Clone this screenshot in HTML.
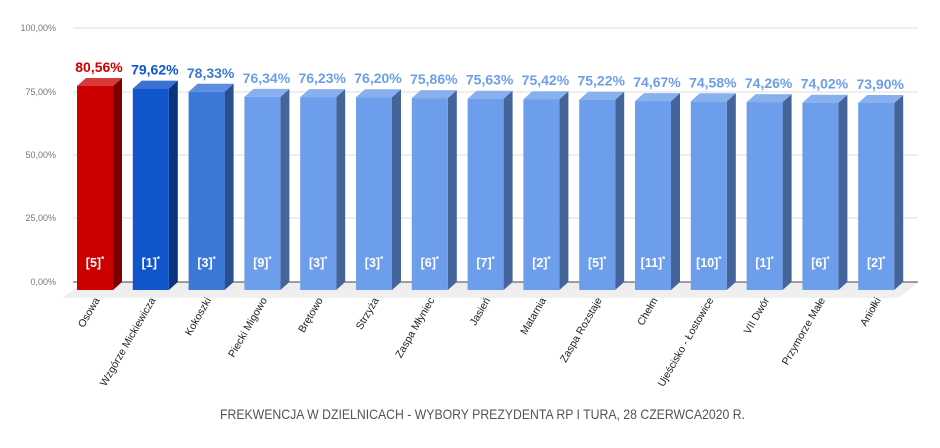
<!DOCTYPE html>
<html><head><meta charset="utf-8"><style>
html,body{margin:0;padding:0;background:#fff;}
svg{display:block;font-family:"Liberation Sans",sans-serif;}
.v{font-size:14px;font-weight:bold;text-anchor:middle;}
.i{font-size:12.5px;font-weight:bold;fill:#fff;text-anchor:middle;}
.i tspan{font-size:8px;}
.x{font-size:10.5px;fill:#222;text-anchor:end;}
.y{font-size:9px;fill:#777;text-anchor:end;}
</style></head><body>
<svg width="940" height="448" viewBox="0 0 940 448">
<g stroke="#ddd" stroke-width="1">
<line x1="73" y1="28" x2="918" y2="28"/><line x1="73" y1="92" x2="918" y2="92"/><line x1="73" y1="155" x2="918" y2="155"/><line x1="73" y1="218" x2="918" y2="218"/>
</g>
<polygon points="73,290 82,282 918,282 909,290" fill="#ededed"/>
<polygon points="62,298 73,290 909,290 898,298" fill="#efefef"/>
<line x1="73" y1="282" x2="918" y2="282" stroke="#444" stroke-width="1"/>
<text class="y" x="56" y="31">100,00%</text><text class="y" x="56" y="95">75,00%</text><text class="y" x="56" y="158">50,00%</text><text class="y" x="56" y="221">25,00%</text><text class="y" x="56" y="285">0,00%</text>

<g transform="translate(77,0)"><polygon points="36,86 45,78 45,282 36,290" fill="#7a0000"/><polygon points="0,86 9,78 45,78 36,86" fill="#d63a3a"/><rect x="0" y="86" width="36" height="204" fill="#cc0000"/><text class="v" x="22" y="72" fill="#cc0000">80,56%</text><text class="i" x="18" y="267">[5]<tspan dy="-5">*</tspan></text><text class="x" transform="translate(23,300) rotate(-60)">Osowa</text></g>
<g transform="translate(132.8,0)"><polygon points="36,88.6 45,80.6 45,282 36,290" fill="#0b3480"/><polygon points="0,88.6 9,80.6 45,80.6 36,88.6" fill="#3b72d4"/><rect x="0" y="88.6" width="36" height="201.4" fill="#1155cc"/><text class="v" x="22" y="74.6" fill="#1155cc">79,62%</text><text class="i" x="18" y="267">[1]<tspan dy="-5">*</tspan></text><text class="x" transform="translate(23,300) rotate(-60)">Wzgórze Mickiewicza</text></g>
<g transform="translate(188.6,0)"><polygon points="36,91.8 45,83.8 45,282 36,290" fill="#284f8f"/><polygon points="0,91.8 9,83.8 45,83.8 36,91.8" fill="#5a8ee0"/><rect x="0" y="91.8" width="36" height="198.2" fill="#3c78d8"/><text class="v" x="22" y="77.8" fill="#3c78d8">78,33%</text><text class="i" x="18" y="267">[3]<tspan dy="-5">*</tspan></text><text class="x" transform="translate(23,300) rotate(-60)">Kokoszki</text></g>
<g transform="translate(244.4,0)"><polygon points="36,96.9 45,88.9 45,282 36,290" fill="#45649a"/><polygon points="0,96.9 9,88.9 45,88.9 36,96.9" fill="#88b0ef"/><rect x="0" y="96.9" width="36" height="193.1" fill="#6d9eeb"/><text class="v" x="22" y="82.9" fill="#6d9eeb">76,34%</text><text class="i" x="18" y="267">[9]<tspan dy="-5">*</tspan></text><text class="x" transform="translate(23,300) rotate(-60)">Piecki Migowo</text></g>
<g transform="translate(300.2,0)"><polygon points="36,97.1 45,89.1 45,282 36,290" fill="#45649a"/><polygon points="0,97.1 9,89.1 45,89.1 36,97.1" fill="#88b0ef"/><rect x="0" y="97.1" width="36" height="192.9" fill="#6d9eeb"/><text class="v" x="22" y="83.1" fill="#6d9eeb">76,23%</text><text class="i" x="18" y="267">[3]<tspan dy="-5">*</tspan></text><text class="x" transform="translate(23,300) rotate(-60)">Brętowo</text></g>
<g transform="translate(356,0)"><polygon points="36,97.2 45,89.2 45,282 36,290" fill="#45649a"/><polygon points="0,97.2 9,89.2 45,89.2 36,97.2" fill="#88b0ef"/><rect x="0" y="97.2" width="36" height="192.8" fill="#6d9eeb"/><text class="v" x="22" y="83.2" fill="#6d9eeb">76,20%</text><text class="i" x="18" y="267">[3]<tspan dy="-5">*</tspan></text><text class="x" transform="translate(23,300) rotate(-60)">Strzyża</text></g>
<g transform="translate(411.8,0)"><polygon points="36,98.1 45,90.1 45,282 36,290" fill="#45649a"/><polygon points="0,98.1 9,90.1 45,90.1 36,98.1" fill="#88b0ef"/><rect x="0" y="98.1" width="36" height="191.9" fill="#6d9eeb"/><text class="v" x="22" y="84.1" fill="#6d9eeb">75,86%</text><text class="i" x="18" y="267">[6]<tspan dy="-5">*</tspan></text><text class="x" transform="translate(23,300) rotate(-60)">Zaspa Młyniec</text></g>
<g transform="translate(467.6,0)"><polygon points="36,98.7 45,90.7 45,282 36,290" fill="#45649a"/><polygon points="0,98.7 9,90.7 45,90.7 36,98.7" fill="#88b0ef"/><rect x="0" y="98.7" width="36" height="191.3" fill="#6d9eeb"/><text class="v" x="22" y="84.7" fill="#6d9eeb">75,63%</text><text class="i" x="18" y="267">[7]<tspan dy="-5">*</tspan></text><text class="x" transform="translate(23,300) rotate(-60)">Jasień</text></g>
<g transform="translate(523.4,0)"><polygon points="36,99.2 45,91.2 45,282 36,290" fill="#45649a"/><polygon points="0,99.2 9,91.2 45,91.2 36,99.2" fill="#88b0ef"/><rect x="0" y="99.2" width="36" height="190.8" fill="#6d9eeb"/><text class="v" x="22" y="85.2" fill="#6d9eeb">75,42%</text><text class="i" x="18" y="267">[2]<tspan dy="-5">*</tspan></text><text class="x" transform="translate(23,300) rotate(-60)">Matarnia</text></g>
<g transform="translate(579.2,0)"><polygon points="36,99.7 45,91.7 45,282 36,290" fill="#45649a"/><polygon points="0,99.7 9,91.7 45,91.7 36,99.7" fill="#88b0ef"/><rect x="0" y="99.7" width="36" height="190.3" fill="#6d9eeb"/><text class="v" x="22" y="85.7" fill="#6d9eeb">75,22%</text><text class="i" x="18" y="267">[5]<tspan dy="-5">*</tspan></text><text class="x" transform="translate(23,300) rotate(-60)">Zaspa Rozstaje</text></g>
<g transform="translate(635,0)"><polygon points="36,101.1 45,93.1 45,282 36,290" fill="#45649a"/><polygon points="0,101.1 9,93.1 45,93.1 36,101.1" fill="#88b0ef"/><rect x="0" y="101.1" width="36" height="188.9" fill="#6d9eeb"/><text class="v" x="22" y="87.1" fill="#6d9eeb">74,67%</text><text class="i" x="18" y="267">[11]<tspan dy="-5">*</tspan></text><text class="x" transform="translate(23,300) rotate(-60)">Chełm</text></g>
<g transform="translate(690.8,0)"><polygon points="36,101.3 45,93.3 45,282 36,290" fill="#45649a"/><polygon points="0,101.3 9,93.3 45,93.3 36,101.3" fill="#88b0ef"/><rect x="0" y="101.3" width="36" height="188.7" fill="#6d9eeb"/><text class="v" x="22" y="87.3" fill="#6d9eeb">74,58%</text><text class="i" x="18" y="267">[10]<tspan dy="-5">*</tspan></text><text class="x" transform="translate(23,300) rotate(-60)">Ujeścisko - Łostowice</text></g>
<g transform="translate(746.6,0)"><polygon points="36,102.1 45,94.1 45,282 36,290" fill="#45649a"/><polygon points="0,102.1 9,94.1 45,94.1 36,102.1" fill="#88b0ef"/><rect x="0" y="102.1" width="36" height="187.9" fill="#6d9eeb"/><text class="v" x="22" y="88.1" fill="#6d9eeb">74,26%</text><text class="i" x="18" y="267">[1]<tspan dy="-5">*</tspan></text><text class="x" transform="translate(23,300) rotate(-60)">VII Dwór</text></g>
<g transform="translate(802.4,0)"><polygon points="36,102.7 45,94.7 45,282 36,290" fill="#45649a"/><polygon points="0,102.7 9,94.7 45,94.7 36,102.7" fill="#88b0ef"/><rect x="0" y="102.7" width="36" height="187.3" fill="#6d9eeb"/><text class="v" x="22" y="88.7" fill="#6d9eeb">74,02%</text><text class="i" x="18" y="267">[6]<tspan dy="-5">*</tspan></text><text class="x" transform="translate(23,300) rotate(-60)">Przymorze Małe</text></g>
<g transform="translate(858.2,0)"><polygon points="36,103 45,95 45,282 36,290" fill="#45649a"/><polygon points="0,103 9,95 45,95 36,103" fill="#88b0ef"/><rect x="0" y="103" width="36" height="187" fill="#6d9eeb"/><text class="v" x="22" y="89" fill="#6d9eeb">73,90%</text><text class="i" x="18" y="267">[2]<tspan dy="-5">*</tspan></text><text class="x" transform="translate(23,300) rotate(-60)">Aniołki</text></g>

<text x="220" y="419" font-size="14" fill="#555" textLength="525" lengthAdjust="spacingAndGlyphs">FREKWENCJA W DZIELNICACH -  WYBORY PREZYDENTA RP I TURA, 28 CZERWCA2020 R.</text>
</svg>
</body></html>
